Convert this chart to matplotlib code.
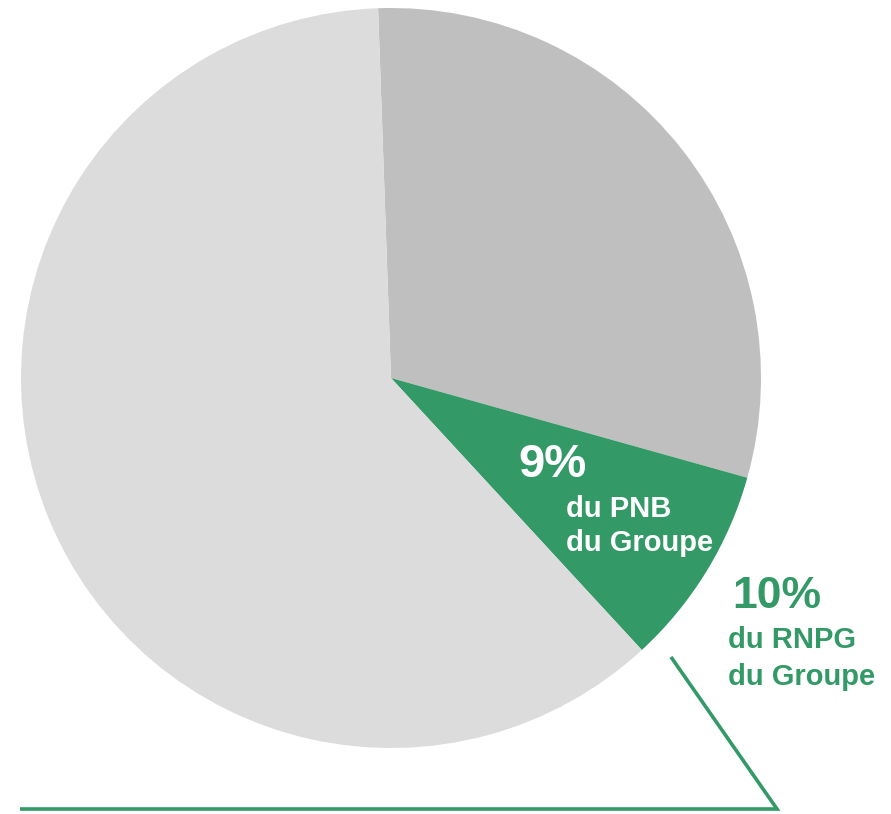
import matplotlib.pyplot as plt

plt.rcParams['font.family'] = ['Liberation Sans', 'DejaVu Sans']

# slice shares (%), clockwise from the top
labels = ['Autres (gris foncé)', 'Part', 'Autres (gris clair)']
shares = [29.9, 8.8, 61.3]
colors = ['#BFBFBF', '#339966', '#DCDCDC']

pnb_pct = '9%'
pnb_text = ['du PNB', 'du Groupe']
rnpg_pct = '10%'
rnpg_text = ['du RNPG', 'du Groupe']

W, H = 891, 814
fig = plt.figure(figsize=(W / 100, H / 100), dpi=100)
ax = fig.add_axes([0, 0, 1, 1])
ax.set_xlim(0, W)
ax.set_ylim(0, H)
ax.set_aspect('equal')
ax.axis('off')

# pixel helper: image y (top-down) -> data y
def py(y):
    return H - y

ax.pie(shares, colors=colors, startangle=92, counterclock=False,
       center=(391, py(378)), radius=370,
       wedgeprops={'linewidth': 0})
ax.set_xlim(0, W)
ax.set_ylim(0, H)

green = '#339966'

# labels inside the green slice
ax.text(552, py(477), pnb_pct, color='white', fontsize=34, fontweight='bold',
        ha='center', va='baseline')
ax.text(566, py(517), pnb_text[0], color='white', fontsize=21, fontweight='bold',
        ha='left', va='baseline')
ax.text(566, py(551), pnb_text[1], color='white', fontsize=21, fontweight='bold',
        ha='left', va='baseline')

# labels outside
ax.text(732, py(608), rnpg_pct, color=green, fontsize=32, fontweight='bold',
        ha='left', va='baseline')
ax.text(728, py(648), rnpg_text[0], color=green, fontsize=21, fontweight='bold',
        ha='left', va='baseline')
ax.text(728, py(685), rnpg_text[1], color=green, fontsize=21, fontweight='bold',
        ha='left', va='baseline')

# bracket line
ax.plot([671, 777, 20], [py(657), py(809), py(809)], color=green, lw=2.6,
        solid_joinstyle='miter', solid_capstyle='butt')

fig.savefig('out.png', dpi=100)
